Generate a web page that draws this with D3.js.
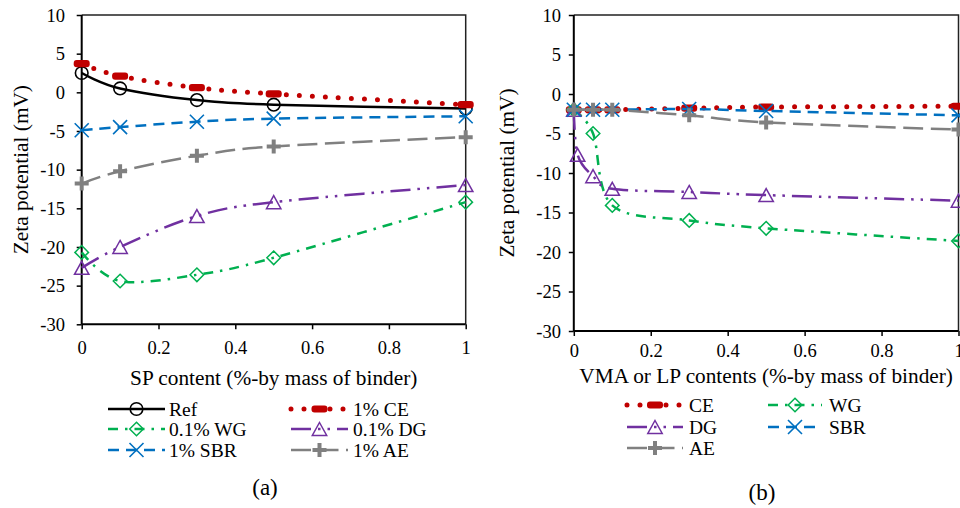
<!DOCTYPE html>
<html><head><meta charset="utf-8">
<script src="https://cdn.jsdelivr.net/npm/d3@7"></script>
<style>
html,body{margin:0;padding:0;background:#fff;}
</style></head>
<body><svg id="c" width="960" height="508"></svg>
<script>
// ---------- data ----------
const yTicks = [10, 5, 0, -5, -10, -15, -20, -25, -30];
const xTicks = [0, 0.2, 0.4, 0.6, 0.8, 1];

const leftX = [0, 0.1, 0.3, 0.5, 1];
const refL = [2.5, 0.5, -1.0, -1.6, -2.1];
const ceL  = [3.7, 2.1, 0.6, -0.2, -1.6];
const wgL  = [-20.7, -24.4, -23.6, -21.4, -14.2];
const dgL  = [-22.7, -20.0, -16.0, -14.2, -12.0];
const sbrL = [-4.9, -4.5, -3.8, -3.4, -3.1];
const aeL  = [-11.8, -10.2, -8.2, -7.0, -5.8];

const rightX   = [0, 0.05, 0.1, 0.3, 0.5, 1];
const rightXDG = [0, 0.01, 0.05, 0.1, 0.3, 0.5, 1];
const ceR  = [-2, -2, -2, -1.8, -1.65, -1.55];
const wgR  = [-2, -5.0, -14.1, -16.0, -17.0, -18.6];
const dgR  = [-2, -7.7, -10.4, -12.0, -12.4, -12.8, -13.5];
const sbrR = [-2, -2, -2, -1.9, -2.15, -2.7];
const aeR  = [-2, -2, -2, -2.7, -3.6, -4.5];

const leftNames  = ["Ref", "1% CE", "0.1% WG", "0.1% DG", "1% SBR", "1% AE"];
const rightNames = ["CE", "WG", "DG", "SBR", "AE"];

// ---------- styles ----------
const FONT = '"Liberation Serif"';
const ST = {
  ref: {color:"#000000", width:2.5, dash:null, cap:"butt", marker:"circle"},
  ce:  {color:"#C00000", width:5, dash:"0 13", cap:"round", marker:"bar"},
  wg:  {color:"#00B050", width:2.5, dash:"10 7 2.5 7", cap:"butt", marker:"diamond"},
  dg:  {color:"#7030A0", width:2.5, dash:"20 7 2.5 7 2.5 7", cap:"butt", marker:"triangle"},
  sbr: {color:"#0070C0", width:2.5, dash:"11 7", cap:"butt", marker:"x"},
  ae:  {color:"#808080", width:2.5, dash:"20 7.5", cap:"butt", marker:"plus"}
};

const svg = d3.select("#c");

function drawMarker(g, type, color, cx, cy) {
  if (type === "circle") {
    g.append("circle").attr("cx", cx).attr("cy", cy).attr("r", 6.3)
      .attr("fill", "none").attr("stroke", color).attr("stroke-width", 1.6);
  } else if (type === "bar") {
    g.append("rect").attr("x", cx - 8).attr("y", cy - 3.6).attr("width", 16).attr("height", 7.2)
      .attr("rx", 3).attr("fill", color);
  } else if (type === "diamond") {
    const s = 6.8;
    g.append("path").attr("d", `M${cx},${cy-s}L${cx+s},${cy}L${cx},${cy+s}L${cx-s},${cy}Z`)
      .attr("fill", "none").attr("stroke", color).attr("stroke-width", 1.5);
  } else if (type === "triangle") {
    const w = 7.2, h = 6.5;
    g.append("path").attr("d", `M${cx},${cy-h}L${cx+w},${cy+h}L${cx-w},${cy+h}Z`)
      .attr("fill", "none").attr("stroke", color).attr("stroke-width", 1.5);
  } else if (type === "x") {
    const s = 7;
    g.append("path").attr("d", `M${cx-s},${cy-s}L${cx+s},${cy+s}M${cx-s},${cy+s}L${cx+s},${cy-s}`)
      .attr("fill", "none").attr("stroke", color).attr("stroke-width", 1.6);
  } else if (type === "plus") {
    const s = 7;
    g.append("path").attr("d", `M${cx-s},${cy}L${cx+s},${cy}M${cx},${cy-s}L${cx},${cy+s}`)
      .attr("fill", "none").attr("stroke", color).attr("stroke-width", 4);
  }
}

function txt(sel) {
  return sel.style("font-family", FONT).attr("fill", "#000");
}

function panel(opt) {
  const x = d3.scaleLinear().domain([0, 1]).range([opt.x0, opt.x1]);
  const y = d3.scaleLinear().domain([-30, 10]).range([opt.y0, opt.y1]);
  const g = svg.append("g");

  // frame top/right
  g.append("path").attr("d", `M${opt.x0},${opt.y1}H${opt.x1}V${opt.y0}`)
    .attr("fill", "none").attr("stroke", "#222").attr("stroke-width", 1.5);

  // axes
  const ya = g.append("g").attr("transform", `translate(${opt.x0},0)`)
    .call(d3.axisLeft(y).tickValues(yTicks).tickSize(5).tickFormat(d => String(d)));
  const xa = g.append("g").attr("transform", `translate(0,${opt.y0})`)
    .call(d3.axisBottom(x).tickValues(xTicks).tickSize(5).tickFormat(d => String(d)));
  [ya, xa].forEach(a => {
    a.attr("font-family", null).attr("font-size", null);
    a.select(".domain").remove();
    a.selectAll("line").attr("stroke", "#000").attr("stroke-width", 1.5);
    txt(a.selectAll("text")).style("font-size", "18.5px");
  });
  ya.selectAll("text").attr("x", -(opt.x0 - opt.yLabEnd)).attr("dy", "0.34em");
  xa.selectAll("text").attr("y", opt.xLabY - opt.y0).attr("dy", "0.34em");
  g.append("line").attr("x1", opt.x0).attr("x2", opt.x0).attr("y1", opt.y1).attr("y2", opt.y0)
    .attr("stroke", "#000").attr("stroke-width", 2);
  g.append("line").attr("x1", opt.x0).attr("x2", opt.x1).attr("y1", opt.y0).attr("y2", opt.y0)
    .attr("stroke", "#000").attr("stroke-width", 2);

  // titles
  txt(g.append("text")).attr("transform", `translate(${opt.yTitleX},${(opt.y0 + opt.y1) / 2}) rotate(-90)`)
    .attr("text-anchor", "middle").attr("dy", "0.34em").style("font-size", "21.3px").text("Zeta potential (mV)");
  txt(g.append("text")).attr("x", (opt.x0 + opt.x1) / 2).attr("y", opt.xTitleY).attr("dy", "0.34em")
    .attr("text-anchor", "middle").style("font-size", "21.3px").text(opt.xTitle);
  txt(g.append("text")).attr("x", opt.capX).attr("y", opt.capY).attr("dy", "0.34em")
    .attr("text-anchor", "middle").style("font-size", "23px").text(opt.cap);

  // series
  const line = d3.line().curve(d3.curveCardinal.tension(0)).x(d => x(d[0])).y(d => y(d[1]));
  opt.series.forEach(s => {
    const st = ST[s.key];
    const pts = s.xs.map((xv, i) => [xv, s.ys[i]]);
    const sg = g.append("g");
    sg.append("path").attr("d", line(pts)).attr("fill", "none").attr("stroke", st.color)
      .attr("stroke-width", st.width).attr("stroke-dasharray", st.dash).attr("stroke-linecap", st.cap);
    pts.forEach(p => drawMarker(sg, st.marker, st.color, x(p[0]), y(p[1])));
  });

  // legend
  opt.legend.forEach(l => {
    const st = ST[l.key];
    const lg = g.append("g");
    lg.append("line").attr("x1", l.lx0).attr("x2", l.lx1).attr("y1", l.y).attr("y2", l.y)
      .attr("stroke", st.color).attr("stroke-width", st.width).attr("stroke-dasharray", st.dash)
      .attr("stroke-linecap", st.cap);
    drawMarker(lg, st.marker, st.color, (l.lx0 + l.lx1) / 2, l.y);
    txt(lg.append("text")).attr("x", l.tx).attr("y", l.y).attr("dy", "0.34em").style("font-size", "19.5px").text(l.name);
  });
}

panel({
  x0: 81.7, x1: 465.7, y0: 324.3, y1: 15, yLabEnd: 65, xLabY: 348,
  yTitleX: 21, xTitleY: 378, xTitle: "SP content (%-by mass of binder)",
  cap: "(a)", capX: 265, capY: 487,
  series: [
    {key: "ref", xs: leftX, ys: refL},
    {key: "ce", xs: leftX, ys: ceL},
    {key: "wg", xs: leftX, ys: wgL},
    {key: "dg", xs: leftX, ys: dgL},
    {key: "sbr", xs: leftX, ys: sbrL},
    {key: "ae", xs: leftX, ys: aeL}
  ],
  legend: [
    {key: "ref", name: leftNames[0], lx0: 108, lx1: 165, tx: 169, y: 409},
    {key: "ce",  name: leftNames[1], lx0: 291, lx1: 348, tx: 353, y: 409},
    {key: "wg",  name: leftNames[2], lx0: 108, lx1: 165, tx: 169, y: 429},
    {key: "dg",  name: leftNames[3], lx0: 291, lx1: 348, tx: 353, y: 429},
    {key: "sbr", name: leftNames[4], lx0: 108, lx1: 165, tx: 169, y: 450},
    {key: "ae",  name: leftNames[5], lx0: 291, lx1: 348, tx: 353, y: 450}
  ]
});

panel({
  x0: 573.8, x1: 958.5, y0: 331, y1: 15, yLabEnd: 561, xLabY: 351,
  yTitleX: 507, xTitleY: 376, xTitle: "VMA or LP contents (%-by mass of binder)",
  cap: "(b)", capX: 762, capY: 492,
  series: [
    {key: "ce", xs: rightX, ys: ceR},
    {key: "wg", xs: rightX, ys: wgR},
    {key: "dg", xs: rightXDG, ys: dgR},
    {key: "sbr", xs: rightX, ys: sbrR},
    {key: "ae", xs: rightX, ys: aeR}
  ],
  legend: [
    {key: "ce",  name: rightNames[0], lx0: 627, lx1: 683, tx: 689, y: 405},
    {key: "wg",  name: rightNames[1], lx0: 768, lx1: 822, tx: 829, y: 405},
    {key: "dg",  name: rightNames[2], lx0: 627, lx1: 683, tx: 689, y: 427},
    {key: "sbr", name: rightNames[3], lx0: 768, lx1: 822, tx: 829, y: 427},
    {key: "ae",  name: rightNames[4], lx0: 627, lx1: 683, tx: 689, y: 448}
  ]
});
</script></body></html>
